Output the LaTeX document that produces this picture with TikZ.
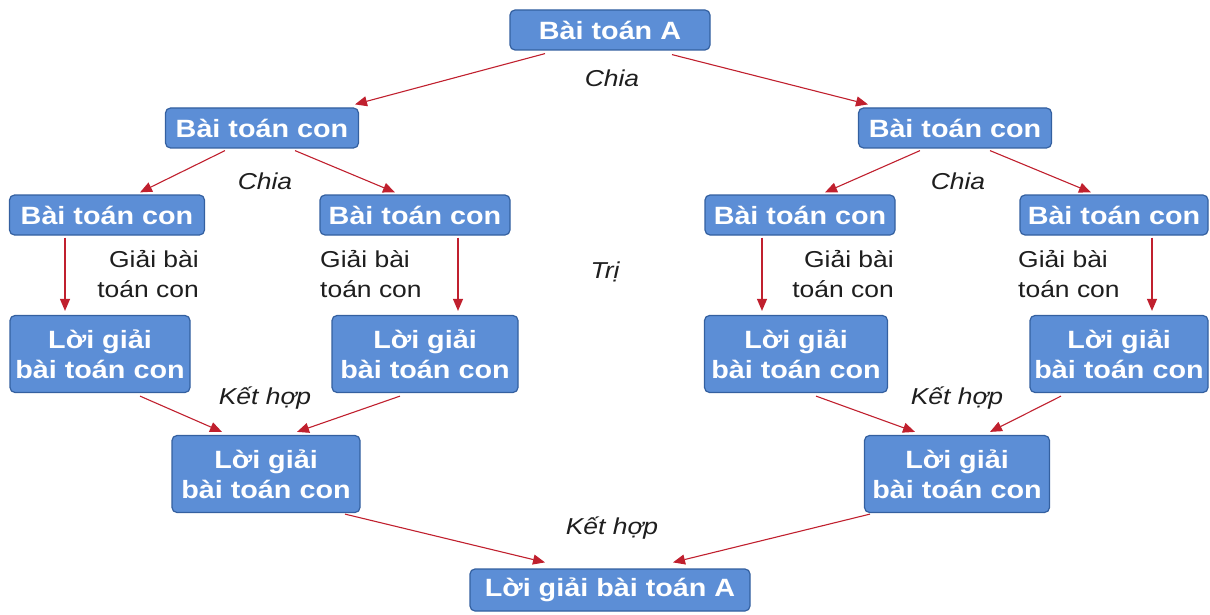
\documentclass[tikz,border=0pt]{standalone}
\usepackage{fontspec}
\setmainfont{Liberation Sans}[FakeStretch=1.15]
\usetikzlibrary{arrows.meta,calc}
\definecolor{boxfill}{RGB}{92,142,214}
\definecolor{boxline}{RGB}{52,96,160}
\definecolor{arr}{RGB}{192,32,46}
\definecolor{lbl}{RGB}{30,30,30}
\tikzset{
  box/.style={draw=boxline, line width=1.2pt, fill=boxfill, rounded corners=5pt,
    text=white, font=\fontsize{25}{30}\selectfont\bfseries, align=center, inner sep=0pt},
  lab/.style={text=lbl, font=\fontsize{23}{30}\selectfont, align=left, inner sep=0pt},
  rlab/.style={lab, align=right},
  ilab/.style={text=lbl, font=\fontsize{23}{30}\selectfont\itshape, inner sep=0pt},
  arrow/.style={draw=arr, line width=1.1pt, -{Triangle[length=12pt,width=10pt]}}
}
\begin{document}
\begin{tikzpicture}[x=1pt,y=-1pt]
\useasboundingbox (0,0) rectangle (1210,615);
% boxes
\node[box, minimum width=200pt, minimum height=40pt] (A) at (610,30) {Bài toán A};
\node[box, minimum width=193pt, minimum height=40pt] (L1) at (262,128) {Bài toán con};
\node[box, minimum width=193pt, minimum height=40pt] (R1) at (955,128) {Bài toán con};
\node[box, minimum width=195pt, minimum height=40pt] (L2a) at (107,215) {Bài toán con};
\node[box, minimum width=190pt, minimum height=40pt] (L2b) at (415,215) {Bài toán con};
\node[box, minimum width=190pt, minimum height=40pt] (R2a) at (800,215) {Bài toán con};
\node[box, minimum width=188pt, minimum height=40pt] (R2b) at (1114,215) {Bài toán con};
\node[box, minimum width=180pt, minimum height=77pt] (L3a) at (100,354) {Lời giải\\bài toán con};
\node[box, minimum width=186pt, minimum height=77pt] (L3b) at (425,354) {Lời giải\\bài toán con};
\node[box, minimum width=183pt, minimum height=77pt] (R3a) at (796,354) {Lời giải\\bài toán con};
\node[box, minimum width=178pt, minimum height=77pt] (R3b) at (1119,354) {Lời giải\\bài toán con};
\node[box, minimum width=188pt, minimum height=77pt] (L4) at (266,474) {Lời giải\\bài toán con};
\node[box, minimum width=185pt, minimum height=77pt] (R4) at (957,474) {Lời giải\\bài toán con};
\node[box, minimum width=280pt, minimum height=42pt] (B) at (610,590) {Lời giải bài toán A};
% labels
\node[ilab] (c0) at (612,78) {Chia};
\node[ilab] (c1) at (265,181) {Chia};
\node[ilab] (c2) at (958,181) {Chia};
\node[ilab] (tri) at (605,272) {Trị};
\node[rlab, anchor=east] (g1) at (199,274) {Giải bài\\toán con};
\node[lab, anchor=west] (g2) at (320,274) {Giải bài\\toán con};
\node[rlab, anchor=east] (g3) at (894,274) {Giải bài\\toán con};
\node[lab, anchor=west] (g4) at (1018,274) {Giải bài\\toán con};
\node[ilab] (k1) at (265,398) {Kết hợp};
\node[ilab] (k2) at (957,398) {Kết hợp};
\node[ilab] (k3) at (612,528) {Kết hợp};
% arrows
\draw[arrow] ($(A.south)+(-65,3)$) -- ($(L1.north)+(93,-3)$);
\draw[arrow] ($(A.south)+(62,4)$) -- ($(R1.north)+(-87,-3)$);
\draw[arrow] ($(L1.south)+(-37,2)$) -- ($(L2a.north)+(33,-2)$);
\draw[arrow] ($(L1.south)+(33,2)$) -- ($(L2b.north)+(-20,-2)$);
\draw[arrow] ($(R1.south)+(-35,2)$) -- ($(R2a.north)+(25,-2)$);
\draw[arrow] ($(R1.south)+(35,2)$) -- ($(R2b.north)+(-23,-2)$);
\draw[arrow] ($(L2a.south)+(-42,2)$) -- ($(L3a.north)+(-35,-4)$);
\draw[arrow] ($(L2b.south)+(43,2)$) -- ($(L3b.north)+(33,-4)$);
\draw[arrow] ($(R2a.south)+(-38,2)$) -- ($(R3a.north)+(-34,-4)$);
\draw[arrow] ($(R2b.south)+(38,2)$) -- ($(R3b.north)+(33,-4)$);
\draw[arrow] ($(L3a.south)+(40,3)$) -- ($(L4.north)+(-44,-3)$);
\draw[arrow] ($(L3b.south)+(-25,3)$) -- ($(L4.north)+(31,-3)$);
\draw[arrow] ($(R3a.south)+(20,3)$) -- ($(R4.north)+(-42,-3)$);
\draw[arrow] ($(R3b.south)+(-58,3)$) -- ($(R4.north)+(33,-3)$);
\draw[arrow] ($(L4.south)+(79,1)$) -- ($(B.north)+(-65,-6)$);
\draw[arrow] ($(R4.south)+(-87,1)$) -- ($(B.north)+(63,-6)$);
\end{tikzpicture}
\end{document}
